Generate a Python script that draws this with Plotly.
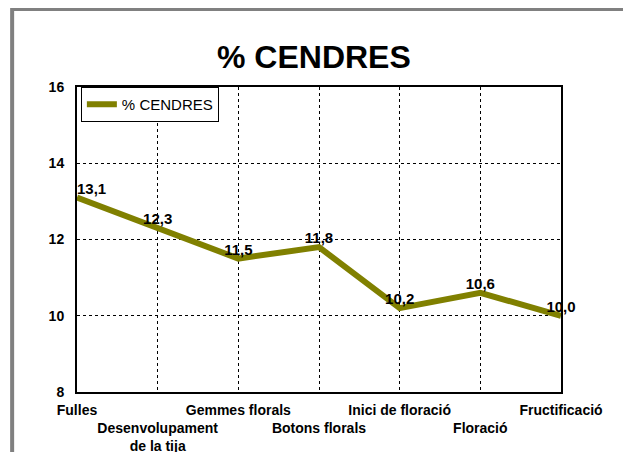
import plotly.graph_objects as go

# data
stages = [
    "Fulles",
    "Desenvolupament<br>de la tija",
    "Gemmes florals",
    "Botons florals",
    "Inici de floració",
    "Floració",
    "Fructificació",
]
cendres = [13.1, 12.3, 11.5, 11.8, 10.2, 10.6, 10.0]
y_ticks = [8, 10, 12, 14, 16]

FONT = "Liberation Sans, Arial, sans-serif"
OLIVE = "#808000"

x_pos = list(range(len(stages)))
# alternate the category labels on two rows, like the original
tick_text = [
    f"<b>{s}</b>" if i % 2 == 0 else "<br><b>" + s.replace("<br>", "</b><br><b>") + "</b>"
    for i, s in enumerate(stages)
]
labels = [f"{v:.1f}".replace(".", ",") for v in cendres]
positions = ["top right"] + ["top center"] * (len(cendres) - 1)

fig = go.Figure(
    go.Scatter(
        x=x_pos,
        y=cendres,
        mode="lines+text",
        name="% CENDRES",
        line=dict(color=OLIVE, width=6),
        text=labels,
        textposition=positions,
        textfont=dict(family=FONT, size=15, color="black", weight="bold"),
        cliponaxis=False,
    )
)

# the page body adds an 8px offset; the figure is sized 8px smaller so the
# page fits the window without scrollbars, and the plot area lands where the
# original sits
fig.update_layout(
    width=623,
    height=444,
    paper_bgcolor="white",
    plot_bgcolor="white",
    font=dict(family=FONT, color="black", size=14),
    title=dict(
        text="<b>% CENDRES</b>",
        x=0.491,
        xanchor="center",
        y=0.89,
        yanchor="middle",
        font=dict(size=32, family=FONT, color="black"),
    ),
    margin=dict(l=69, r=70, t=79, b=60, autoexpand=False),
    showlegend=True,
    legend=dict(
        x=0.008,
        y=1.0,
        xanchor="left",
        yanchor="top",
        bgcolor="white",
        bordercolor="black",
        borderwidth=1,
        font=dict(size=15, family=FONT),
        itemwidth=30,
        tracegroupgap=0,
    ),
    xaxis=dict(
        range=[0, 6],
        tickmode="array",
        tickvals=x_pos,
        ticktext=tick_text,
        tickangle=0,
        automargin=False,
        showgrid=True,
        gridcolor="black",
        griddash="dot",
        gridwidth=1,
        showline=True,
        linecolor="black",
        linewidth=2,
        mirror=True,
        zeroline=False,
        ticks="",
        ticklabelstandoff=4,
        tickfont=dict(size=14),
    ),
    yaxis=dict(
        range=[8, 16],
        tickmode="array",
        tickvals=y_ticks,
        ticktext=[f"<b>{t}</b>" for t in y_ticks],
        automargin=False,
        showgrid=True,
        gridcolor="black",
        griddash="dot",
        gridwidth=1,
        showline=True,
        linecolor="black",
        linewidth=2,
        mirror=True,
        zeroline=False,
        ticks="",
        ticklabelstandoff=8,
        tickfont=dict(size=14),
    ),
    shapes=[
        dict(
            type="rect",
            xref="paper",
            yref="paper",
            x0=-0.134,
            x1=1.134,
            y0=-0.25,
            y1=1.256,
            line=dict(color="#808080", width=4),
            fillcolor="rgba(0,0,0,0)",
            layer="below",
        )
    ],
)

fig.write_html("out.html")
